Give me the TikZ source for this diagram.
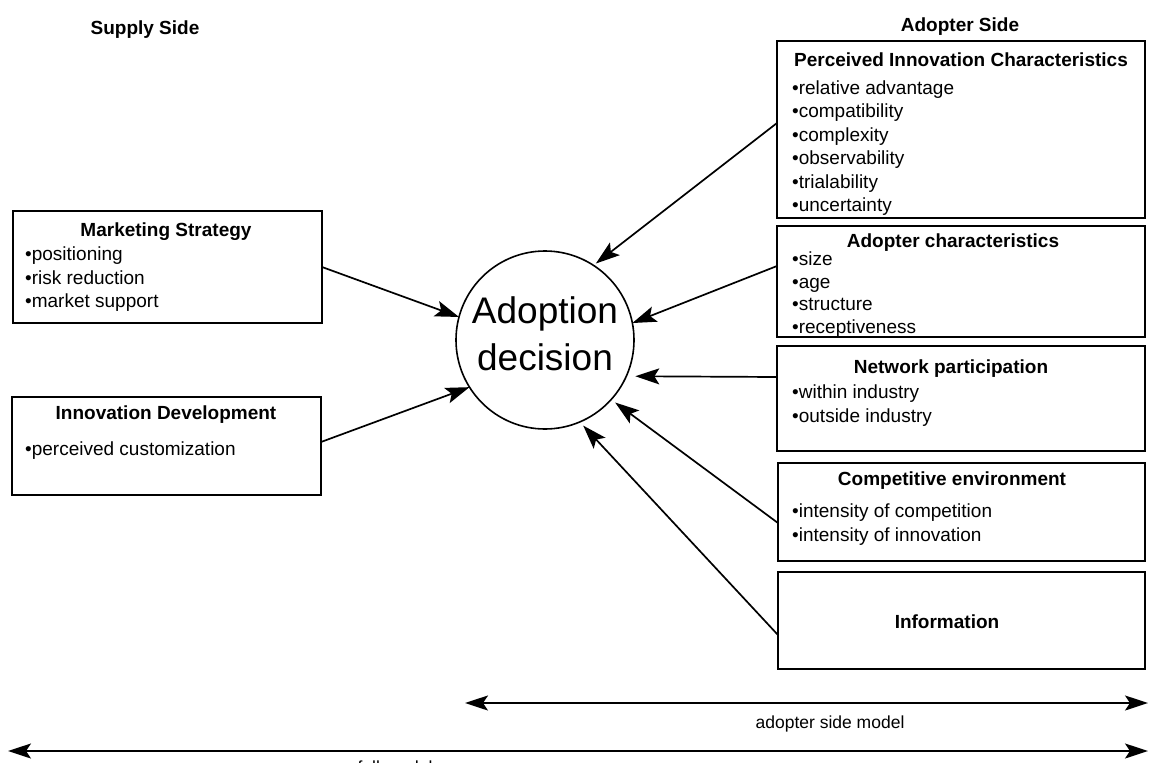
\documentclass[tikz,border=0pt]{standalone}
\usepackage{fontspec}
\setmainfont{Liberation Sans}
\usetikzlibrary{arrows.meta}
\begin{document}
\begin{tikzpicture}[x=1pt,y=-1pt,
  box/.style={draw, line width=1.8pt, rectangle, inner sep=0pt, outer sep=0pt},
  head/.style={font=\bfseries\fontsize{19}{23.5}\selectfont, anchor=base, inner sep=0pt},
  items/.style={font=\fontsize{19}{23.5}\selectfont, anchor=north west, align=left, inner sep=0pt},
  link/.style={line width=1.7pt, -{Stealth[length=24pt,width=16pt,inset=5pt]}},
  span/.style={line width=1.9pt, {Stealth[length=23pt,width=15pt,inset=5pt]}-{Stealth[length=23pt,width=15pt,inset=5pt]}},
  note/.style={font=\fontsize{17.5}{21}\selectfont, anchor=base, inner sep=0pt}
]
\useasboundingbox (0,0) rectangle (1149,763);

% side captions
\node[head] (supply) at (145,34.5) {Supply Side};
\node[head] (adopter) at (960,31.5) {Adopter Side};

% central decision
\node[circle, draw, line width=1.6pt, minimum size=178pt, inner sep=0pt, outer sep=0pt] (adopt) at (545,340) {};
\node[anchor=north, align=center, inner sep=0pt, font=\fontsize{37}{47}\selectfont] (adoptxt) at (545,290.1) {\strut Adoption\\decision};

% supply side boxes
\node[box, minimum width=309pt, minimum height=112pt] (ms) at (167.5,267) {};
\node[head] (mshead) at (166,236.5) {Marketing Strategy};
\node[items] (msitems) at (25,244.05) {\strut\textbullet positioning\\\textbullet risk reduction\\\textbullet market support};

\node[box, minimum width=309pt, minimum height=98pt] (id) at (166.5,446) {};
\node[head] (idhead) at (166,419.5) {Innovation Development};
\node[items] (iditems) at (25,439.05) {\strut\textbullet perceived customization};

% adopter side boxes
\node[box, minimum width=368pt, minimum height=177pt] (pic) at (961,129.5) {};
\node[head] (pichead) at (961,66) {Perceived Innovation Characteristics};
\node[items] (picitems) at (792,77.55) {\strut\textbullet relative advantage\\\textbullet compatibility\\\textbullet complexity\\\textbullet observability\\\textbullet trialability\\\textbullet uncertainty};

\node[box, minimum width=368pt, minimum height=111pt] (ac) at (961,281.5) {};
\node[head] (achead) at (953,247.5) {Adopter characteristics};
\node[items, font=\fontsize{19}{22.6}\selectfont] (acitems) at (792,249.7) {\strut\textbullet size\\\textbullet age\\\textbullet structure\\\textbullet receptiveness};

\node[box, minimum width=368pt, minimum height=105pt] (np) at (961,398.5) {};
\node[head] (nphead) at (951,373) {Network participation};
\node[items] (npitems) at (792,382.05) {\strut\textbullet within industry\\\textbullet outside industry};

\node[box, minimum width=367pt, minimum height=98pt] (ce) at (961.5,512) {};
\node[head] (cehead) at (952,485) {Competitive environment};
\node[items] (ceitems) at (792,501.05) {\strut\textbullet intensity of competition\\\textbullet intensity of innovation};

\node[box, minimum width=367pt, minimum height=97pt] (info) at (961.5,620.5) {};
\node[head] (infohead) at (947,628) {Information};

% influences on the decision
\draw[link] (ms.east) -- (adopt.165.8);
\draw[link] ([yshift=4pt]id.east) -- (adopt.212);
\draw[link, shorten >=3pt] ([yshift=6.5pt]pic.west) -- (adopt.57);
\draw[link] ([yshift=15.5pt]ac.west) -- (adopt.11.6);
\draw[link, shorten >=9pt] ([yshift=21.5pt]np.west) -- (adopt.-24.6);
\draw[link, shorten >=5pt] ([yshift=-11pt]ce.west) -- (adopt.-42);
\draw[link, shorten >=5pt] ([yshift=-14.5pt]info.west) -- (adopt.-67.5);

% model scope spans
\coordinate (asL) at (465,703);
\coordinate (asR) at (1148,703);
\coordinate (fmL) at (8,751);
\coordinate (fmR) at (1148,751);
\draw[span] (asL) -- (asR);
\draw[span] (fmL) -- (fmR);
\node[note] (aslabel) at (830,728) {adopter side model};
\node[note] (fmlabel) at (395,773) {full model};
\end{tikzpicture}
\end{document}
